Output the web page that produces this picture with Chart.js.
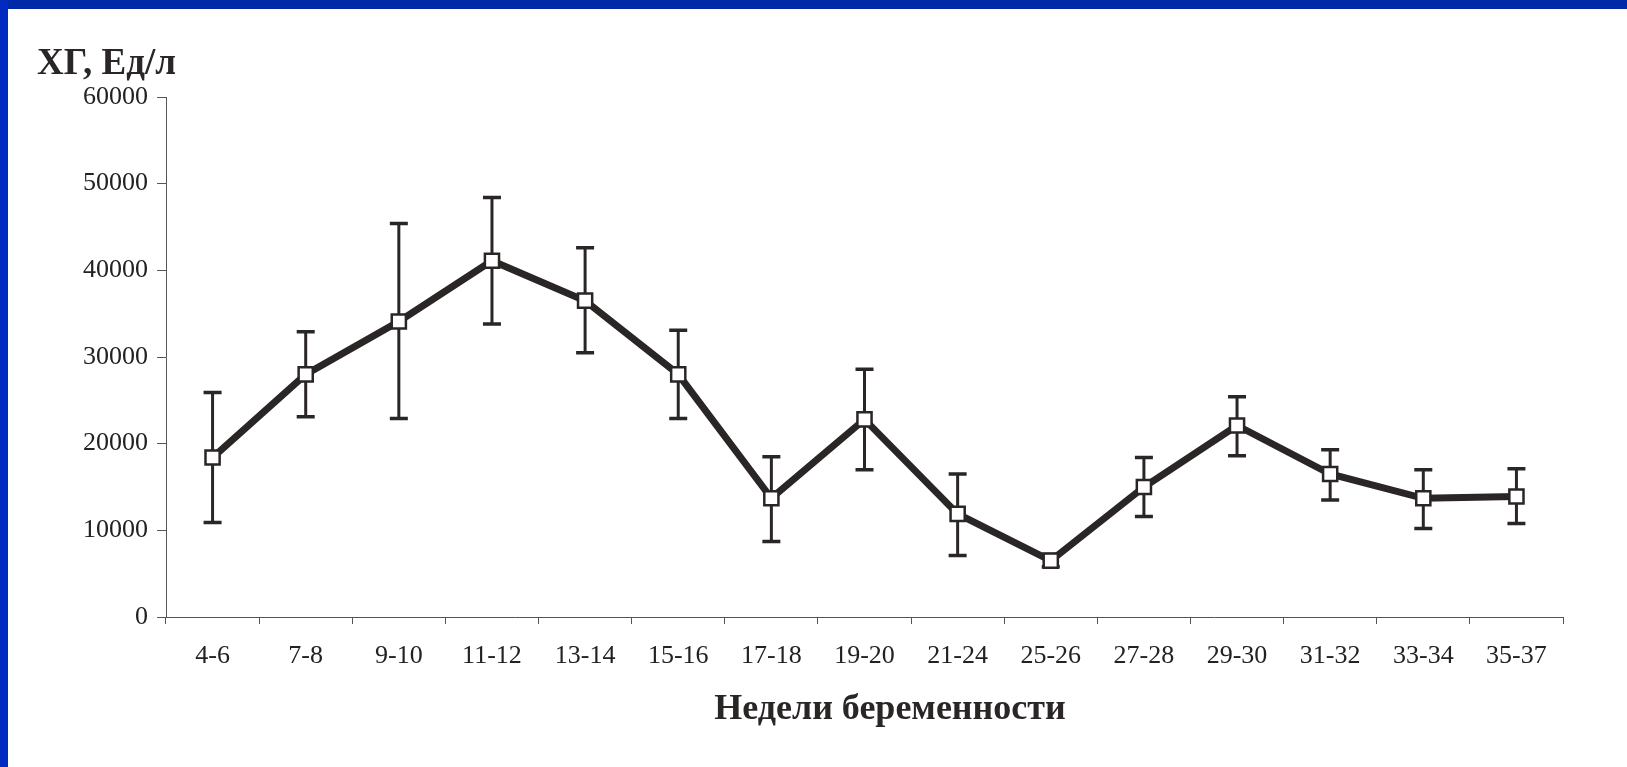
<!DOCTYPE html>
<html>
<head>
<meta charset="utf-8">
<script src="https://cdn.jsdelivr.net/npm/chart.js@4.4.1/dist/chart.umd.min.js"></script>
<style>
  html, body { margin: 0; padding: 0; background: #ffffff; }
  #wrap { position: relative; width: 1627px; height: 767px; overflow: hidden; background: #fff; }
  #c { position: absolute; left: 0; top: 0; }
  .bt { position: absolute; left: 0; top: 0; width: 1627px; height: 9px; background: #0029a8; }
  .bl { position: absolute; left: 0; top: 0; width: 8px; height: 767px; background: #002ac0; }
  #ylab { position: absolute; left: 37px; top: 40px; font: bold 37px "Liberation Serif", "Times New Roman", serif; color: #2a2626; white-space: nowrap; }
  #xlab { position: absolute; left: 890px; top: 686px; transform: translateX(-50%); font: bold 36px "Liberation Serif", "Times New Roman", serif; color: #2a2626; white-space: nowrap; }
</style>
</head>
<body>
<div id="wrap">
  <canvas id="c" width="1627" height="767"></canvas>
  <div id="ylab">ХГ, Ед/л</div>
  <div id="xlab">Недели беременности</div>
  <div class="bt"></div>
  <div class="bl"></div>
</div>
<script>
const weeks = ['4-6','7-8','9-10','11-12','13-14','15-16','17-18','19-20','21-24','25-26','27-28','29-30','31-32','33-34','35-37'];
const hcgMean = [18400, 28000, 34100, 41100, 36500, 28000, 13700, 22800, 11900, 6500, 15000, 22100, 16500, 13700, 13900];
const hcgUpper = [25900, 32900, 45400, 48400, 42600, 33100, 18500, 28600, 16500, 7200, 18400, 25400, 19300, 17000, 17100];
const hcgLower = [10900, 23100, 22900, 33800, 30500, 22900, 8700, 17000, 7100, 5800, 11600, 18600, 13500, 10200, 10800];
const yTicks = [0, 10000, 20000, 30000, 40000, 50000, 60000];

const ink = '#2b2626';

const errorBars = {
  id: 'errorBars',
  beforeDatasetsDraw(chart) {
    const ctx = chart.ctx;
    const xs = chart.scales.x, ys = chart.scales.y;
    ctx.save();
    ctx.strokeStyle = ink;
    for (let i = 0; i < weeks.length; i++) {
      const x = xs.getPixelForValue(i);
      const yt = ys.getPixelForValue(hcgUpper[i]);
      const yb = ys.getPixelForValue(hcgLower[i]);
      ctx.lineWidth = 3;
      ctx.beginPath();
      ctx.moveTo(x, yt); ctx.lineTo(x, yb);
      ctx.stroke();
      ctx.lineWidth = 3.5;
      ctx.beginPath();
      ctx.moveTo(x - 9, yt); ctx.lineTo(x + 9, yt);
      ctx.moveTo(x - 9, yb); ctx.lineTo(x + 9, yb);
      ctx.stroke();
    }
    ctx.restore();
  }
};

new Chart(document.getElementById('c'), {
  type: 'line',
  data: {
    labels: weeks,
    datasets: [{
      data: hcgMean,
      borderColor: ink,
      borderWidth: 7,
      pointStyle: 'rect',
      pointRadius: 10,
      pointBorderWidth: 2.5,
      pointBackgroundColor: '#ffffff',
      pointBorderColor: ink,
      tension: 0
    }]
  },
  options: {
    responsive: false,
    animation: false,
    events: [],
    layout: { padding: { top: 97, right: 64, left: 0, bottom: 0 } },
    plugins: { legend: { display: false }, tooltip: { enabled: false }, title: { display: false } },
    scales: {
      x: {
        type: 'category',
        offset: true,
        grid: { offset: true, drawOnChartArea: false, tickLength: 7, color: '#555', lineWidth: 1 },
        border: { color: '#555', width: 1 },
        ticks: { color: '#222', font: { family: 'Liberation Serif', size: 26 }, padding: 17, maxRotation: 0, autoSkip: false },
        afterFit(s) { s.height = 150; }
      },
      y: {
        min: 0, max: 60000,
        afterBuildTicks(s) { s.ticks = yTicks.map(v => ({ value: v })); },
        grid: { drawOnChartArea: false, tickLength: 9, color: '#555', lineWidth: 1 },
        border: { color: '#555', width: 1 },
        ticks: { color: '#222', font: { family: 'Liberation Serif', size: 26 }, padding: 9, callback: v => String(v) },
        afterFit(s) { s.width = 166; }
      }
    }
  },
  plugins: [errorBars]
});
</script>
</body>
</html>
